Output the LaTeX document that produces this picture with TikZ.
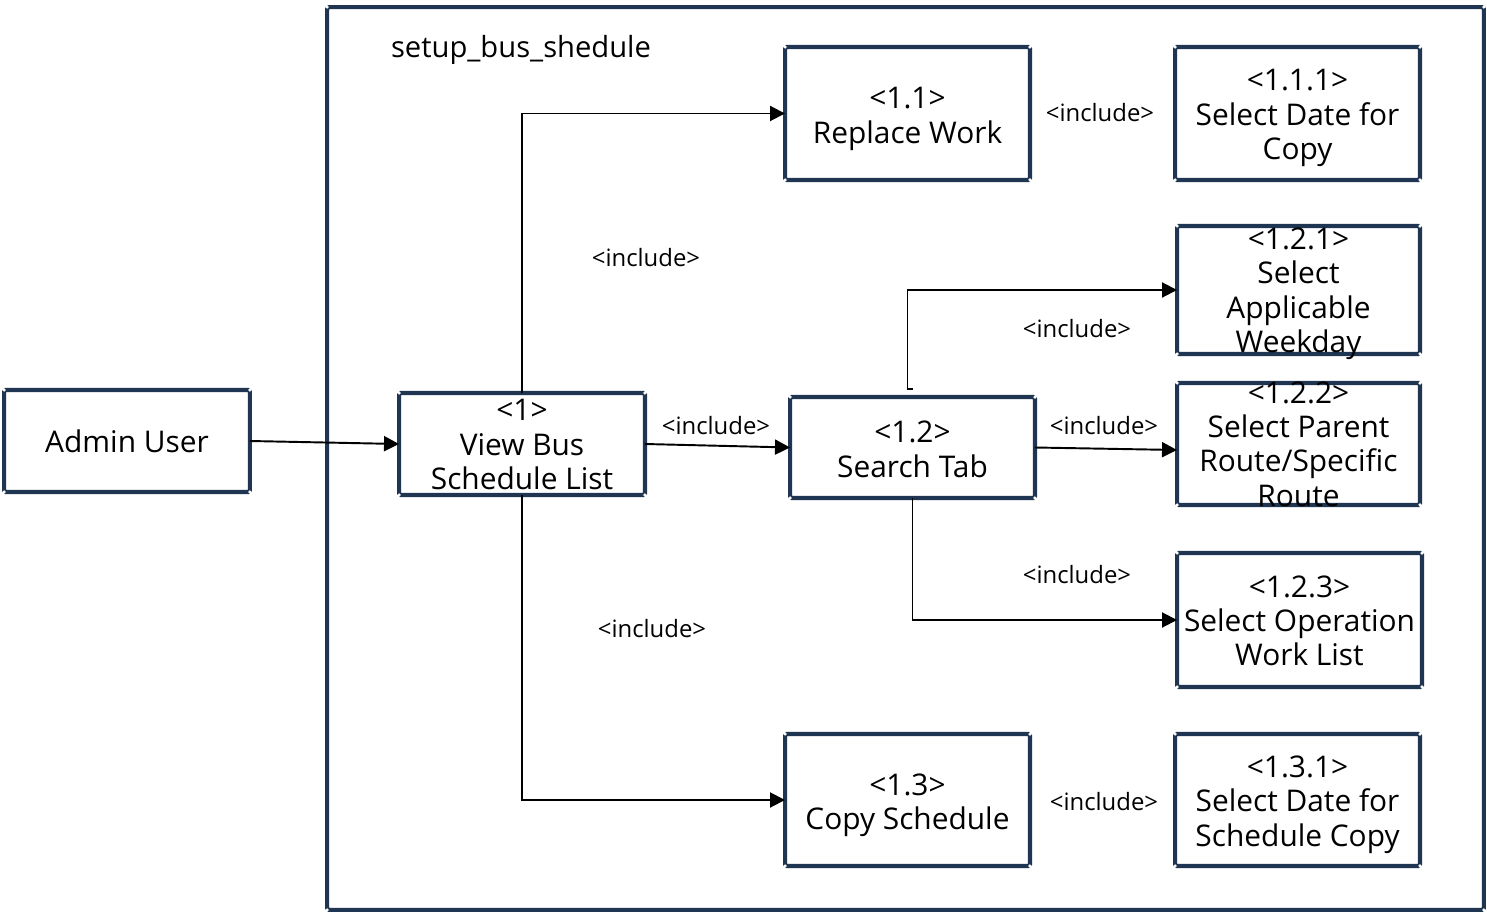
\documentclass[tikz,border=0pt]{standalone}
\usepackage{fontspec}
\setmainfont{Open Sans}
\usetikzlibrary{arrows.meta,calc}
\definecolor{navy}{HTML}{1F3552}
% invisible strut that lowers a centred block of lines
\newcommand\toppad[1]{\rule{0pt}{#1}}
\begin{document}
\begin{tikzpicture}[x={(0.02cm,0)},y={(0,-0.02cm)},
  box/.style={draw=navy,line width=2.3pt,fill=white,rounded corners=1pt,
    outer sep=0pt,inner sep=0pt,align=center,
    font=\fontsize{17pt}{19.6pt}\selectfont},
  lbl/.style={font=\fontsize{13.6pt}{15pt}\selectfont,inner sep=0pt},
  conn/.style={line width=1.1pt,-{Triangle[length=0.3cm,width=0.3cm]}},
  handle/.style={fill=white,draw=none}]
\useasboundingbox (0,0) rectangle (1487,915);

% system boundary
\node[box,minimum width=23.14cm,minimum height=18.06cm,fill=none] (frame) at (905.5,458.5) {};
\node[font=\fontsize{16.6pt}{19.6pt}\selectfont,inner sep=0pt] (title) at (521,50) {setup\_bus\_shedule};

% use cases
\node[box,minimum width=4.92cm,minimum height=2.04cm] (admin) at (127,441) {Admin User};
\node[box,minimum width=4.92cm,minimum height=2.04cm] (view) at (522,444) {\toppad{13pt}<1>\\View Bus\\Schedule List};
\node[box,minimum width=4.9cm,minimum height=2.66cm] (replace) at (907.5,113.5) {\toppad{18.5pt}<1.1>\\Replace Work};
\node[box,minimum width=4.9cm,minimum height=2.66cm] (s111) at (1297.5,113.5) {\toppad{17.3pt}<1.1.1>\\Select Date for\\Copy};
\node[box,minimum width=4.86cm,minimum height=2.56cm,inner ysep=-10pt] (s121) at (1298.5,290) {\toppad{16.5pt}<1.2.1>\\Select\\Applicable\\Weekday};
\node[box,minimum width=4.9cm,minimum height=2.02cm] (search) at (912.5,447.5) {\toppad{14.6pt}<1.2>\\Search Tab};
\node[box,minimum width=4.86cm,minimum height=2.44cm,inner ysep=-10pt] (s122) at (1298.5,444) {<1.2.2>\\Select Parent\\Route/Specific\\Route};
\node[box,minimum width=4.9cm,minimum height=2.68cm] (s123) at (1299.5,620) {\toppad{13.3pt}<1.2.3>\\Select Operation\\Work List};
\node[box,minimum width=4.9cm,minimum height=2.64cm] (copy) at (907.5,800) {\toppad{18pt}<1.3>\\Copy Schedule};
\node[box,minimum width=4.9cm,minimum height=2.64cm] (s131) at (1297.5,800) {\toppad{17.4pt}<1.3.1>\\Select Date for\\Schedule Copy};

% corner handles
\foreach \n in {frame,admin,view,replace,s111,s121,search,s122,s123,copy,s131}{
  \foreach \a in {north west,north east,south west,south east}{
    \fill[handle] (\n.\a) circle (0.035cm);
  }
}

% connectors
\draw[conn] (admin.east) -- (view.west);
\draw[conn] (view.east) -- (search.west);
\draw[conn] (view.north) |- (replace.west);
\draw[conn] (view.south) |- (copy.west);
\draw[conn] ($(search.north)+(0,-8)$) -- ++(-5,0) |- (s121.west);
\draw[conn] (search.east) -- ($(s122.west)+(0,6)$);
\draw[conn] (search.south) |- (s123.west);

% labels
\node[lbl] (l1) at (646,258) {<include>};
\node[lbl] (l2) at (652,629) {<include>};
\node[lbl] (l3) at (716,426) {<include>};
\node[lbl] (l4) at (1100,113) {<include>};
\node[lbl] (l5) at (1077,329) {<include>};
\node[lbl] (l6) at (1104,426) {<include>};
\node[lbl] (l7) at (1077,575) {<include>};
\node[lbl] (l8) at (1104,802) {<include>};
\end{tikzpicture}
\end{document}
